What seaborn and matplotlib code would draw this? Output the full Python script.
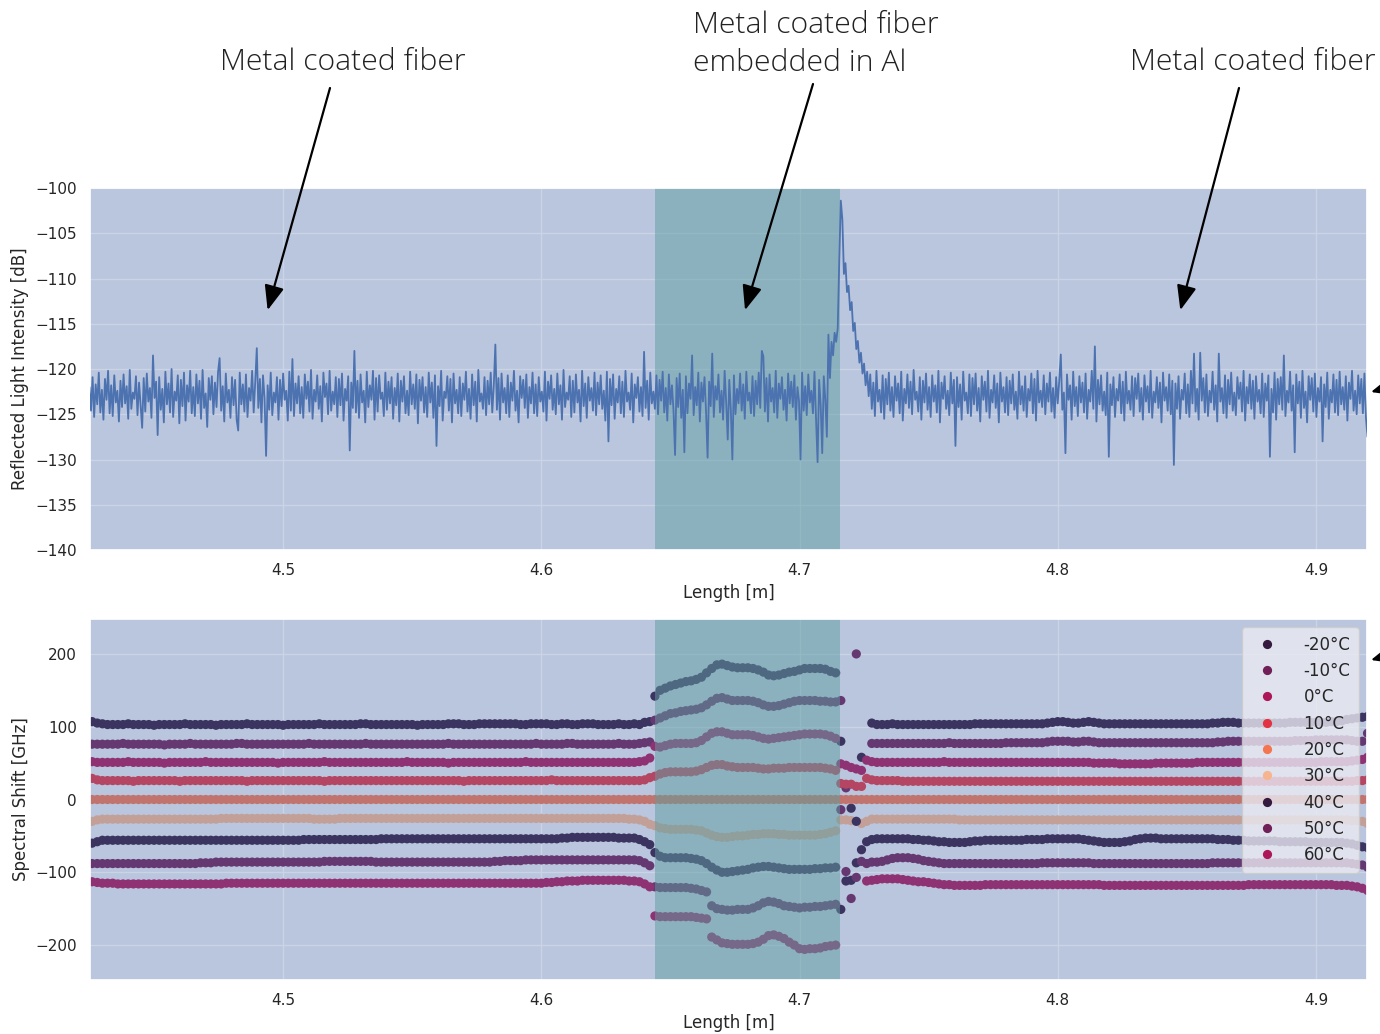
import numpy as np
import pandas as pd
import matplotlib
matplotlib.use("Agg")
import matplotlib.pyplot as plt
import seaborn as sns
from matplotlib import font_manager

nan = float("nan")

# ---------------- top panel: reflected light intensity [dB], 0.6 mm steps from 4.425 m
top_start = 4.425
top_step = 0.0006
top_values = [
    -122.0, -124.6, -120.9, -125.3, -121.7, -123.9, -120.4, -124.8, -122.3, -125.6, -121.1, -123.4, -120.2, -124.9, -121.8, -125.2, -120.7, -123.7, -122.4, -125.8,
    -121.3, -124.2, -120.6, -123.8, -121.9, -125.5, -120.1, -124.4, -122.6, -123.3, -120.8, -125.1, -121.5, -124.0, -126.5, -121.0, -124.7, -120.5, -123.6, -122.1,
    -125.4, -118.5, -123.2, -121.4, -127.3, -120.9, -124.5, -122.2, -125.9, -120.3, -123.9, -121.6, -124.8, -120.0, -125.3, -122.5, -123.5, -120.7, -126.0, -121.2,
    -124.1, -120.4, -125.7, -121.8, -123.6, -120.2, -124.9, -122.0, -125.2, -120.6, -123.8, -121.3, -125.5, -120.1, -124.3, -122.7, -126.4, -121.0, -123.4, -120.8,
    -125.0, -121.5, -124.2, -120.3, -118.8, -124.6, -121.9, -125.8, -120.5, -123.7, -122.3, -125.4, -120.9, -124.0, -121.2, -125.6, -126.8, -120.4, -123.9, -121.7,
    -124.7, -120.6, -125.3, -122.1, -123.5, -120.2, -124.8, -121.4, -117.7, -124.3, -121.1, -125.9, -120.7, -123.2, -129.6, -121.8, -124.5, -120.4, -125.1, -122.6,
    -123.7, -120.9, -125.6, -121.2, -124.1, -120.5, -123.4, -122.4, -125.7, -120.3, -124.6, -118.9, -125.2, -121.6, -123.8, -120.8, -124.9, -122.0, -125.4, -120.6,
    -123.3, -121.4, -124.7, -120.1, -125.5, -122.3, -123.6, -120.7, -124.4, -121.9, -125.8, -120.4, -123.1, -121.6, -125.0, -120.2, -124.6, -122.5, -123.9, -120.9,
    -125.3, -121.1, -124.0, -120.5, -125.7, -122.2, -123.5, -120.8, -129.0, -121.5, -124.3, -118.0, -124.8, -121.3, -125.4, -120.6, -123.7, -122.4, -125.9, -120.3,
    -124.2, -121.8, -123.4, -120.2, -125.6, -121.0, -124.7, -120.7, -123.3, -122.6, -125.2, -120.4, -124.5, -121.4, -123.8, -120.9, -125.5, -122.1, -124.0, -120.5,
    -125.8, -121.3, -123.6, -120.8, -124.9, -122.4, -125.1, -120.3, -123.9, -121.7, -124.4, -120.6, -126.0, -121.2, -123.5, -120.9, -124.8, -122.0, -125.3, -120.4,
    -123.7, -121.5, -125.4, -120.7, -128.5, -121.9, -124.1, -120.2, -125.7, -122.5, -123.2, -120.8, -124.6, -121.1, -125.9, -120.5, -123.8, -122.3, -124.9, -120.9,
    -125.2, -121.6, -123.4, -120.3, -124.7, -122.2, -125.5, -120.6, -124.0, -121.4, -125.8, -120.1, -123.6, -122.7, -124.4, -120.9, -125.1, -121.3, -123.9, -120.4,
    -124.8, -121.8, -117.3, -124.5, -121.0, -125.6, -120.5, -123.7, -122.1, -124.9, -120.7, -125.3, -121.5, -123.5, -120.2, -124.6, -122.4, -125.9, -120.8, -123.2,
    -121.2, -124.3, -120.6, -125.4, -122.0, -123.8, -120.4, -124.9, -121.7, -125.2, -120.9, -123.6, -122.5, -124.7, -120.3, -125.7, -121.4, -123.3, -120.7, -124.5,
    -122.2, -125.0, -120.5, -123.9, -121.8, -125.6, -120.1, -124.2, -122.6, -123.4, -120.8, -125.3, -121.3, -124.8, -120.6, -123.7, -122.3, -125.8, -120.2, -124.1,
    -121.6, -125.4, -120.9, -123.5, -122.1, -124.6, -120.4, -125.1, -121.5, -123.9, -120.7, -124.4, -122.4, -125.7, -120.3, -128.0, -121.1, -124.0, -120.6, -125.5,
    -122.2, -123.7, -120.8, -124.9, -121.4, -125.3, -120.2, -123.6, -122.6, -124.5, -120.5, -125.9, -121.7, -123.2, -120.9, -124.7, -122.0, -125.2, -118.1, -124.3,
    -121.3, -125.6, -120.4, -123.8, -122.5, -124.4, -120.7, -125.0, -121.2, -123.5, -120.3, -124.8, -122.1, -125.7, -120.6, -123.9, -121.8, -124.6, -129.5, -121.0,
    -124.2, -120.5, -125.4, -122.3, -129.2, -120.8, -124.9, -121.6, -123.3, -118.5, -125.1, -122.0, -124.0, -120.4, -125.8, -121.5, -123.6, -120.9, -124.7, -129.8,
    -121.4, -124.1, -118.3, -125.3, -121.9, -123.4, -120.6, -124.8, -122.4, -125.6, -120.2, -123.7, -127.8, -121.2, -124.5, -130.0, -120.7, -125.0, -122.2, -123.8,
    -120.5, -124.6, -121.7, -125.5, -120.3, -123.5, -122.6, -124.9, -120.8, -125.2, -121.3, -123.9, -120.4, -124.3, -118.0, -118.6, -124.7, -121.0, -125.8, -120.6,
    -123.6, -122.1, -124.8, -120.2, -125.4, -121.6, -123.3, -120.9, -124.5, -122.3, -125.7, -120.5, -123.8, -121.4, -124.2, -120.7, -125.6, -122.0, -123.5, -130.0,
    -120.4, -124.6, -121.9, -125.1, -120.6, -123.7, -122.4, -124.9, -120.3, -125.5, -130.3, -121.2, -124.0, -129.3, -120.8, -123.4, -127.5, -116.2, -121.0, -117.0,
    -118.5, -116.0, -117.0, -115.5, -108.0, -101.4, -103.5, -109.5, -108.3, -111.5, -110.8, -113.5, -112.6, -115.8, -114.9, -117.8, -116.9, -119.3, -118.2, -120.5,
    -119.4, -121.8, -120.3, -123.0, -120.6, -124.4, -121.5, -125.2, -120.2, -123.6, -122.3, -124.8, -120.7, -125.5, -121.1, -123.9, -120.4, -124.6, -122.0, -125.3,
    -120.8, -123.5, -121.6, -124.9, -120.3, -125.7, -122.2, -123.8, -120.6, -124.3, -121.4, -125.0, -120.1, -123.4, -122.5, -124.7, -120.9, -125.6, -121.3, -123.7,
    -120.5, -124.5, -122.0, -125.3, -120.7, -123.6, -121.8, -124.8, -120.2, -125.9, -121.5, -123.3, -120.8, -124.4, -122.4, -125.1, -120.4, -123.8, -121.2, -128.5,
    -120.9, -124.2, -121.7, -125.6, -120.3, -123.5, -122.6, -124.9, -120.6, -125.2, -121.0, -123.9, -120.5, -124.6, -122.1, -125.8, -120.8, -123.4, -121.4, -124.7,
    -120.2, -125.4, -122.3, -123.7, -120.7, -124.3, -121.6, -125.9, -120.4, -123.6, -122.0, -124.8, -120.9, -125.1, -121.3, -123.8, -120.6, -124.5, -122.5, -125.5,
    -120.3, -123.9, -121.9, -124.6, -120.8, -125.3, -122.2, -123.5, -120.5, -124.9, -121.1, -125.7, -120.2, -123.7, -122.4, -124.2, -120.7, -125.0, -121.6, -123.6,
    -120.4, -124.7, -122.1, -125.4, -120.9, -123.8, -121.3, -118.4, -124.5, -122.6, -129.3, -120.6, -123.4, -121.8, -125.6, -120.3, -124.1, -122.0, -125.2, -120.8,
    -123.7, -121.5, -124.8, -120.5, -125.5, -122.3, -123.6, -120.2, -124.4, -117.5, -125.8, -121.2, -123.9, -120.7, -124.6, -122.5, -125.1, -120.4, -129.7, -121.7,
    -124.0, -120.9, -125.3, -122.2, -123.5, -120.6, -124.9, -121.4, -125.7, -120.3, -123.8, -122.4, -124.5, -120.8, -125.2, -121.0, -123.3, -120.5, -124.7, -122.1,
    -125.6, -120.7, -123.6, -121.9, -124.8, -120.2, -125.4, -122.5, -123.7, -120.9, -124.3, -121.5, -125.9, -120.4, -123.5, -122.0, -124.6, -120.6, -125.0, -121.3,
    -130.6, -121.6, -124.4, -120.8, -125.5, -122.3, -123.4, -120.5, -124.9, -121.7, -125.3, -120.2, -123.8, -118.3, -124.7, -122.2, -125.6, -118.2, -123.5, -121.0,
    -124.8, -120.6, -125.2, -122.4, -123.7, -120.3, -124.5, -121.8, -125.8, -118.3, -123.6, -122.1, -124.9, -120.7, -125.4, -121.2, -123.9, -120.4, -124.6, -122.6,
    -125.1, -120.9, -123.3, -121.5, -124.7, -120.2, -125.7, -122.0, -123.8, -120.6, -124.4, -121.3, -125.5, -120.8, -123.6, -122.3, -124.9, -120.5, -125.3, -121.6,
    -123.5, -120.7, -129.7, -122.2, -124.8, -120.4, -125.6, -121.1, -123.9, -120.9, -124.5, -118.5, -125.2, -122.4, -123.7, -120.3, -124.6, -121.8, -129.2, -120.6,
    -123.8, -121.4, -125.4, -120.2, -124.3, -122.5, -125.9, -120.8, -123.4, -121.0, -124.7, -120.5, -125.3, -122.1, -123.6, -120.9, -128.0, -121.7, -124.2, -120.4,
    -125.5, -122.3, -123.7, -120.6, -124.8, -121.2, -125.1, -120.3, -123.9, -122.0, -124.5, -120.8, -125.7, -121.5, -123.3, -120.2, -124.6, -122.4, -125.0, -120.7,
    -123.8, -121.1, -124.9, -120.5, -125.4, -127.5,
]
assert len(top_values) == 826, len(top_values)

# ---------------- bottom panel: spectral shift [GHz], 2 mm steps from 4.426 m
bot_start = 4.426
bot_step = 0.002
temps = ["-20°C", "-10°C", "0°C", "10°C", "20°C", "30°C", "40°C", "50°C", "60°C"]

s_m20 = [
    107, 105, 104, 103, 103, 103, 103, 104, 103, 103,
    103, 103, 102, 103, 103, 103, 103, 103, 104, 103,
    103, 103, 103, 103, 102, 103, 103, 103, 103, 103,
    104, 103, 103, 103, 103, 103, 103, 102, 103, 103,
    103, 103, 103, 103, 104, 103, 103, 103, 103, 103,
    103, 103, 104, 104, 103, 103, 103, 103, 103, 103,
    103, 103, 103, 102, 103, 103, 103, 103, 103, 104,
    104, 104, 103, 103, 103, 104, 104, 104, 104, 104,
    104, 104, 104, 103, 103, 104, 104, 104, 104, 103,
    103, 104, 104, 103, 103, 104, 104, 104, 103, 103,
    103, 103, 104, 103, 103, 104, 103, 106, 107,
    142, 150, 153, 156, 158, 160, 162, 163, 165, 168,
    174, 180, 185, 186, 184, 182, 181, 181, 181, 180,
    178, 175, 171, 170, 171, 173, 175, 176, 178, 180,
    180, 180, 180, 179, 176, 174,
    80, nan, -12, -87, 58, nan, 105,
    103, 103, 103, 104, 103, 103, 103, 103, 103, 103,
    103, 103, 103, 103, 103, 103, 103, 103, 103, 104,
    104, 104, 104, 104, 104, 104, 104, 104, 104, 104,
    104, 104, 104, 105, 106, 107, 107, 106, 105, 105,
    106, 107, 106, 105, 104, 104, 104, 104, 104, 104,
    104, 104, 104, 104, 104, 104, 104, 104, 104, 104,
    104, 104, 104, 104, 104, 105, 105, 106, 106, 106,
    105, 105, 105, 105, 105, 105, 105, 105, 105, 105,
    106, 106, 106, 106, 106, 106, 106, 106, 107, 107,
    108, 110, 111, 112, 113, 114,
]
s_m10 = [
    76, 76, 76, 76, 76, 76, 77, 76, 76, 76,
    76, 76, 76, 76, 75, 76, 76, 76, 76, 77,
    76, 76, 76, 76, 76, 76, 76, 76, 77, 77,
    76, 76, 76, 76, 76, 76, 76, 76, 76, 76,
    76, 76, 77, 76, 76, 76, 76, 76, 76, 76,
    76, 76, 76, 77, 76, 76, 76, 76, 76, 76,
    76, 76, 76, 76, 76, 76, 76, 76, 76, 77,
    76, 76, 76, 76, 76, 76, 76, 76, 76, 76,
    76, 76, 76, 76, 76, 76, 77, 76, 76, 76,
    76, 76, 77, 77, 76, 76, 76, 76, 76, 76,
    76, 76, 77, 76, 76, 76, 77, 78, 79,
    109, 112, 115, 118, 119, 121, 122, 123, 124, 126,
    130, 135, 139, 140, 138, 136, 136, 136, 136, 135,
    133, 130, 128, 128, 129, 131, 133, 135, 136, 136,
    136, 136, 135, 135, 134, 134,
    136, 16, nan, 200, nan, nan, 77,
    77, 77, 77, 77, 77, 77, 77, 77, 77, 77,
    77, 77, 77, 77, 78, 77, 77, 77, 77, 77,
    77, 77, 77, 77, 77, 78, 78, 78, 78, 78,
    78, 78, 78, 79, 80, 80, 80, 80, 79, 79,
    80, 80, 79, 78, 78, 78, 78, 78, 78, 78,
    78, 78, 78, 78, 78, 78, 78, 78, 78, 78,
    78, 78, 78, 78, 78, 78, 79, 79, 80, 80,
    80, 80, 80, 80, 80, 80, 80, 80, 80, 80,
    80, 81, 81, 81, 81, 82, 82, 82, 82, 82,
    82, 82, 81, 80, 80, 91,
]
s_0 = [
    52, 51, 51, 51, 51, 51, 51, 52, 51, 51,
    51, 51, 51, 51, 50, 51, 51, 51, 51, 51,
    51, 51, 52, 51, 51, 51, 51, 51, 51, 51,
    51, 51, 51, 51, 51, 51, 50, 51, 51, 51,
    51, 51, 51, 51, 51, 52, 51, 51, 51, 51,
    51, 51, 51, 51, 51, 51, 51, 51, 51, 51,
    51, 52, 51, 51, 51, 51, 51, 51, 51, 50,
    51, 51, 51, 51, 51, 51, 51, 51, 51, 51,
    51, 51, 51, 51, 52, 51, 51, 51, 51, 51,
    51, 51, 51, 51, 51, 51, 51, 51, 51, 51,
    51, 51, 51, 51, 51, 51, 52, 53, 57,
    73, 72, 74, 76, 77, 77, 77, 77, 78, 81,
    86, 91, 93, 93, 91, 89, 89, 89, 89, 88,
    86, 84, 83, 84, 85, 86, 87, 88, 89, 90,
    90, 90, 90, 89, 87, 84,
    49, 47, 44, 42, 40, 54, 52,
    51, 51, 51, 51, 51, 51, 51, 51, 51, 51,
    51, 51, 51, 52, 51, 51, 51, 51, 51, 51,
    51, 51, 51, 51, 51, 51, 51, 51, 51, 51,
    51, 51, 51, 51, 51, 51, 51, 51, 51, 51,
    51, 51, 50, 50, 50, 50, 50, 49, 49, 49,
    49, 49, 49, 49, 50, 50, 50, 50, 50, 50,
    50, 50, 51, 51, 51, 51, 51, 51, 51, 51,
    51, 51, 51, 51, 51, 51, 51, 51, 51, 51,
    51, 51, 51, 51, 51, 51, 52, 52, 52, 52,
    52, 52, 53, 54, 55, 58,
]
s_10 = [
    29, 27, 26, 26, 26, 26, 26, 26, 25, 26,
    26, 26, 26, 26, 26, 26, 26, 25, 26, 26,
    26, 26, 26, 26, 26, 26, 26, 26, 26, 26,
    25, 26, 26, 26, 26, 26, 26, 26, 26, 26,
    26, 26, 26, 26, 26, 25, 26, 26, 26, 26,
    26, 26, 26, 26, 26, 26, 26, 26, 26, 26,
    26, 26, 26, 26, 26, 26, 26, 26, 26, 26,
    26, 26, 25, 26, 26, 26, 26, 26, 26, 26,
    26, 26, 26, 26, 26, 26, 26, 26, 26, 27,
    26, 26, 26, 26, 26, 26, 26, 26, 26, 26,
    26, 26, 26, 26, 26, 26, 26, 27, 30,
    32, 35, 37, 38, 38, 38, 38, 38, 39, 41,
    44, 47, 48, 48, 46, 45, 44, 44, 44, 44,
    43, 42, 42, 43, 43, 43, 44, 44, 44, 44,
    44, 44, 44, 43, 42, 40,
    22, 21, 21, 18, 18, 29, 27,
    26, 26, 26, 26, 26, 25, 25, 25, 25, 25,
    25, 25, 25, 25, 25, 25, 25, 25, 25, 25,
    25, 25, 25, 25, 25, 25, 25, 25, 25, 25,
    25, 25, 25, 25, 25, 25, 25, 25, 25, 25,
    25, 25, 25, 25, 25, 25, 25, 25, 25, 25,
    25, 25, 25, 25, 25, 25, 25, 25, 25, 25,
    25, 25, 25, 25, 25, 25, 25, 25, 25, 25,
    25, 25, 25, 25, 25, 25, 25, 25, 25, 25,
    25, 25, 25, 25, 25, 25, 25, 25, 25, 25,
    25, 25, 25, 26, 26, 27,
]
s_20 = [
    0, 0, 0, 0, 0, 0, 0, 0, 0, 0, 0, 0, 0, 0, 0, 0, 0, 0, 0, 0,
    0, 0, 0, 0, 0, 0, 0, 0, 0, 0, 0, 0, 0, 0, 0, 0, 0, 0, 0, 0,
    0, 0, 0, 0, 0, 0, 0, 0, 0, 0, 0, 0, 0, 0, 0, 0, 0, 0, 0, 0,
    0, 0, 0, 0, 0, 0, 0, 0, 0, 0, 0, 0, 0, 0, 0, 0, 0, 0, 0, 0,
    0, 0, 0, 0, 0, 0, 0, 0, 0, 0, 0, 0, 0, 0, 0, 0, 0, 0, 0, 0,
    0, 0, 0, 0, 0, 0, 0, 0, 0, 0, 0, 0, 0, 0, 0, 0, 0, 0, 0, 0,
    0, 0, 0, 0, 0, 0, 0, 0, 0, 0, 0, 0, 0, 0, 0, 0, 0, 0, 0, 0,
    0, 0, 0, 0, 0, 0, 0, 0, 0, 0, 0, 0, 0, 0, 0, 0, 0, 0, 0, 0,
    0, 0, 0, 0, 0, 0, 0, 0, 0, 0, 0, 0, 0, 0, 0, 0, 0, 0, 0, 0,
    0, 0, 0, 0, 0, 0, 0, 0, 0, 0, 0, 0, 0, 0, 0, 0, 0, 0, 0, 0,
    0, 0, 0, 0, 0, 0, 0, 0, 0, 0, 0, 0, 0, 0, 0, 0, 0, 0, 0, 0,
    0, 0, 0, 0, 0, 0, 0, 0, 0, 0, 0, 0, 0, 0, 0, 0, 0, 0, 0, 0,
    0, 0, 0, 0, 0, 0, 0, 0,
]
s_30 = [
    -30, -28, -27, -27, -27, -27, -27, -27, -27, -27,
    -27, -27, -27, -27, -27, -27, -27, -27, -27, -27,
    -27, -27, -27, -27, -27, -26, -26, -26, -26, -26,
    -26, -26, -26, -26, -26, -26, -26, -26, -26, -26,
    -26, -26, -26, -27, -27, -27, -27, -27, -26, -26,
    -26, -26, -26, -26, -26, -26, -26, -26, -26, -26,
    -26, -26, -26, -26, -26, -26, -26, -26, -26, -26,
    -26, -26, -26, -26, -26, -26, -26, -26, -26, -26,
    -26, -26, -26, -26, -26, -26, -26, -26, -26, -26,
    -26, -26, -26, -26, -26, -26, -26, -26, -26, -26,
    -26, -26, -26, -26, -27, -27, -28, -30, -34,
    -36, -39, -40, -41, -41, -41, -41, -41, -42, -43,
    -46, -49, -51, -52, -52, -51, -50, -50, -49, -48,
    -48, -47, -47, -47, -48, -48, -49, -49, -49, -49,
    -49, -49, -48, -47, -45, -43,
    -28, -28, -29, -30, -33, -30, -27,
    -27, -27, -27, -27, -27, -27, -27, -27, -27, -27,
    -27, -27, -27, -27, -27, -27, -28, -28, -28, -28,
    -28, -28, -28, -28, -28, -28, -28, -28, -28, -28,
    -28, -28, -28, -28, -28, -28, -28, -28, -28, -28,
    -28, -28, -28, -28, -28, -28, -28, -28, -28, -28,
    -28, -28, -28, -28, -28, -28, -28, -28, -28, -28,
    -28, -28, -28, -28, -28, -28, -28, -28, -28, -28,
    -28, -28, -28, -28, -28, -28, -28, -28, -28, -28,
    -28, -28, -28, -28, -28, -28, -28, -28, -28, -28,
    -28, -28, -29, -29, -30, -33,
]
s_40 = [
    -60, -58, -56, -56, -56, -56, -56, -56, -56, -56,
    -56, -56, -56, -56, -56, -56, -56, -56, -56, -56,
    -56, -56, -56, -56, -56, -56, -56, -56, -56, -56,
    -56, -56, -56, -56, -56, -56, -56, -56, -56, -56,
    -56, -55, -55, -55, -55, -55, -55, -55, -55, -55,
    -55, -55, -55, -55, -55, -55, -54, -54, -54, -54,
    -54, -54, -54, -54, -54, -54, -54, -54, -54, -54,
    -54, -54, -54, -54, -54, -54, -54, -54, -54, -54,
    -54, -54, -54, -54, -54, -54, -54, -54, -54, -54,
    -54, -53, -53, -52, -52, -52, -52, -52, -52, -52,
    -52, -52, -53, -53, -53, -53, -55, -58, -62,
    -73, -78, -80, -80, -80, -80, -80, -81, -82, -84,
    -88, -93, -97, -100, -100, -99, -98, -97, -96, -94,
    -93, -92, -92, -93, -94, -95, -96, -96, -96, -96,
    -96, -95, -95, -94, -94, -93,
    -151, -112, -111, -30, -69, -58, -55,
    -54, -54, -54, -54, -54, -54, -54, -55, -55, -56,
    -56, -57, -58, -58, -59, -59, -59, -59, -58, -57,
    -57, -56, -56, -56, -56, -56, -56, -56, -56, -55,
    -55, -55, -55, -54, -54, -54, -54, -54, -54, -54,
    -55, -56, -57, -58, -59, -59, -59, -59, -58, -57,
    -55, -54, -53, -53, -53, -54, -54, -54, -54, -54,
    -54, -54, -54, -54, -54, -54, -55, -55, -55, -56,
    -56, -56, -57, -57, -57, -57, -57, -57, -58, -58,
    -58, -58, -58, -58, -59, -59, -59, -59, -59, -59,
    -59, -60, -61, -63, -65, -66,
]
s_50 = [
    -88, -88, -88, -88, -88, -88, -88, -88, -88, -88,
    -88, -88, -88, -88, -88, -88, -88, -88, -88, -88,
    -88, -87, -87, -87, -86, -86, -86, -86, -86, -86,
    -86, -86, -86, -86, -86, -86, -86, -86, -86, -86,
    -86, -86, -86, -86, -86, -85, -85, -85, -85, -85,
    -85, -85, -85, -85, -85, -86, -86, -86, -86, -86,
    -86, -86, -86, -86, -86, -86, -86, -86, -86, -86,
    -86, -86, -86, -86, -86, -86, -86, -86, -85, -85,
    -84, -84, -84, -84, -83, -83, -83, -83, -83, -83,
    -83, -83, -83, -83, -83, -83, -83, -83, -83, -83,
    -83, -83, -83, -83, -83, -83, -84, -87, -91,
    -120, -121, -121, -121, -121, -121, -121, -122, -123, -125,
    -127, -146, -150, -151, -152, -152, -151, -151, -151, -149,
    -146, -142, -140, -141, -143, -146, -147, -148, -149, -148,
    -148, -147, -147, -146, -145, -144,
    -14, -99, -136, -107, -85, -88, -86,
    -86, -85, -83, -81, -80, -80, -80, -81, -82, -84,
    -85, -86, -87, -88, -88, -88, -88, -88, -88, -88,
    -88, -88, -88, -88, -88, -88, -88, -88, -88, -88,
    -88, -88, -87, -87, -87, -87, -87, -87, -87, -87,
    -87, -87, -88, -88, -88, -88, -88, -88, -88, -88,
    -88, -88, -88, -88, -88, -88, -88, -88, -88, -88,
    -88, -88, -88, -88, -88, -87, -87, -87, -87, -87,
    -87, -87, -87, -87, -87, -87, -87, -87, -87, -87,
    -87, -87, -87, -87, -87, -87, -87, -87, -87, -87,
    -87, -87, -88, -89, -90, -93,
]
s_60 = [
    -113, -114, -115, -115, -115, -116, -116, -116, -116, -116,
    -116, -116, -116, -116, -116, -116, -116, -116, -116, -116,
    -116, -116, -116, -116, -116, -116, -115, -115, -115, -115,
    -115, -115, -115, -115, -115, -115, -115, -115, -115, -115,
    -115, -115, -115, -115, -115, -115, -115, -115, -115, -115,
    -115, -115, -115, -115, -115, -115, -115, -115, -115, -115,
    -115, -115, -115, -115, -115, -115, -115, -115, -115, -115,
    -115, -115, -115, -115, -115, -115, -115, -115, -115, -115,
    -115, -115, -115, -115, -115, -115, -115, -115, -114, -114,
    -113, -113, -112, -112, -112, -111, -111, -111, -111, -111,
    -111, -111, -111, -111, -112, -112, -113, -116, -120,
    -160, -161, -161, -161, -161, -161, -161, -161, -162, -163,
    -164, -189, -193, -197, -198, -199, -199, -199, -199, -198,
    -196, -192, -187, -186, -188, -191, -196, -200, -205, -206,
    -205, -205, -204, -202, -201, -200,
    nan, nan, nan, nan, nan, -112, -111,
    -110, -109, -109, -109, -109, -110, -111, -112, -113, -113,
    -114, -115, -116, -117, -117, -118, -118, -118, -118, -118,
    -118, -117, -117, -117, -117, -117, -117, -117, -117, -117,
    -117, -117, -117, -117, -117, -117, -117, -117, -117, -117,
    -117, -117, -117, -117, -118, -118, -118, -118, -118, -118,
    -118, -118, -118, -118, -118, -118, -118, -118, -118, -118,
    -118, -118, -118, -118, -118, -118, -118, -118, -118, -118,
    -118, -118, -117, -117, -117, -117, -117, -117, -117, -117,
    -117, -117, -117, -117, -117, -117, -117, -117, -117, -118,
    -118, -118, -119, -120, -122, -125,
]
shift_series = [s_m20, s_m10, s_0, s_10, s_20, s_30, s_40, s_50, s_60]
for name, s in zip(temps, shift_series):
    assert len(s) == 248, (name, len(s))

annotation_texts = ["Metal coated fiber", "Metal coated fiber\nembedded in Al", "Metal coated fiber"]
x_min, x_max = 4.4252, 4.9198
embedded_zone = (4.6442, 4.7155)

# ---------------- tables
top_df = pd.DataFrame({
    "Length [m]": top_start + top_step * np.arange(len(top_values)),
    "Intensity": top_values,
})
rows = []
for t, s in zip(temps, shift_series):
    xs = bot_start + bot_step * np.arange(len(s))
    rows.append(pd.DataFrame({"Length [m]": xs, "Shift": s, "Temperature": t}))
bot_df = pd.concat(rows, ignore_index=True)

# ---------------- style
sns.set_theme(style="darkgrid", context="notebook")
plt.rcParams["font.family"] = ["DejaVu Sans"]
rocket = sns.color_palette("rocket", 6)
palette = {t: rocket[i % 6] for i, t in enumerate(temps)}
blue = sns.color_palette("deep")[0]

W, H = 1380, 1034
fig = plt.figure(figsize=(W / 100, H / 100), dpi=100)
ax1 = fig.add_axes([90 / W, 1 - 550 / H, 1277 / W, 362 / H])
ax2 = fig.add_axes([90 / W, 1 - 980 / H, 1277 / W, 361 / H])

# top panel: shading under the trace
ax1.axvspan(x_min, x_max, color=blue, alpha=0.3, lw=0, zorder=1)
ax1.axvspan(*embedded_zone, color="cadetblue", alpha=0.5, lw=0, zorder=1)
sns.lineplot(data=top_df, x="Length [m]", y="Intensity", ax=ax1, color=blue, lw=1.3,
             zorder=3, estimator=None)
ax1.set_xlim(x_min, x_max)
ax1.set_ylim(-140, -100)
ax1.set_yticks(np.arange(-140, -99, 5))
ax1.set_xticks([4.5, 4.6, 4.7, 4.8, 4.9])
ax1.set_xlabel("Length [m]")
ax1.set_ylabel("Reflected Light Intensity [dB]")

# bottom panel: shading drawn over the points
sns.scatterplot(data=bot_df, x="Length [m]", y="Shift", hue="Temperature", hue_order=temps,
                palette=palette, s=44, linewidth=0, edgecolor="none", ax=ax2, zorder=1)
ax2.axvspan(x_min, x_max, color=blue, alpha=0.3, lw=0, zorder=1.5)
ax2.axvspan(*embedded_zone, color="cadetblue", alpha=0.5, lw=0, zorder=1.5)
ax2.set_xlim(x_min, x_max)
ax2.set_ylim(-248, 248)
ax2.set_yticks([-200, -100, 0, 100, 200])
ax2.set_xticks([4.5, 4.6, 4.7, 4.8, 4.9])
ax2.set_xlabel("Length [m]")
ax2.set_ylabel("Spectral Shift [GHz]")
sns.move_legend(ax2, "upper right", title=None, fontsize=12, labelspacing=0.5,
                handletextpad=1.2, borderpad=0.5)

# ---------------- annotations
names = {f.name for f in font_manager.fontManager.ttflist}
if "Liberation Sans Narrow" in names:
    ann_font = dict(family="Liberation Sans Narrow", size=25)
else:
    ann_font = dict(family="Open Sans", size=21.7, weight="light")

fig.text(343 / W, 1 - 70 / H, annotation_texts[0], ha="center", va="baseline", color="#222222", **ann_font)
line_a, line_b = annotation_texts[1].split("\n")
fig.text(693 / W, 1 - 33 / H, line_a, ha="left", va="baseline", color="#222222", **ann_font)
fig.text(693 / W, 1 - 71 / H, line_b, ha="left", va="baseline", color="#222222", **ann_font)
fig.text(1253 / W, 1 - 70 / H, annotation_texts[2], ha="center", va="baseline", color="#222222", **ann_font)

arrow_kw = dict(arrowstyle="-|>,head_length=0.75,head_width=0.3", color="black", lw=1.6,
                shrinkA=0, shrinkB=0, mutation_scale=20)
for tail, tip in [((330, H - 88), (4.494, -113.5)),
                  ((813, H - 84), (4.6789, -113.5)),
                  ((1239, H - 88), (4.8475, -113.5))]:
    ax1.annotate("", xy=tip, xycoords="data", xytext=tail, textcoords="figure pixels",
                 arrowprops=arrow_kw, annotation_clip=False)
# arrows coming in from beyond the right edge
for tail, tip in [((1480, H - 362), (1371, H - 392)),
                  ((1480, H - 630), (1371, H - 660))]:
    fig.add_artist(matplotlib.patches.FancyArrowPatch(
        tail, tip, transform=None, arrowstyle="-|>,head_length=0.8,head_width=0.35",
        color="black", lw=1.6, mutation_scale=20, shrinkA=0, shrinkB=0))

fig.savefig("out.png", dpi=100)
